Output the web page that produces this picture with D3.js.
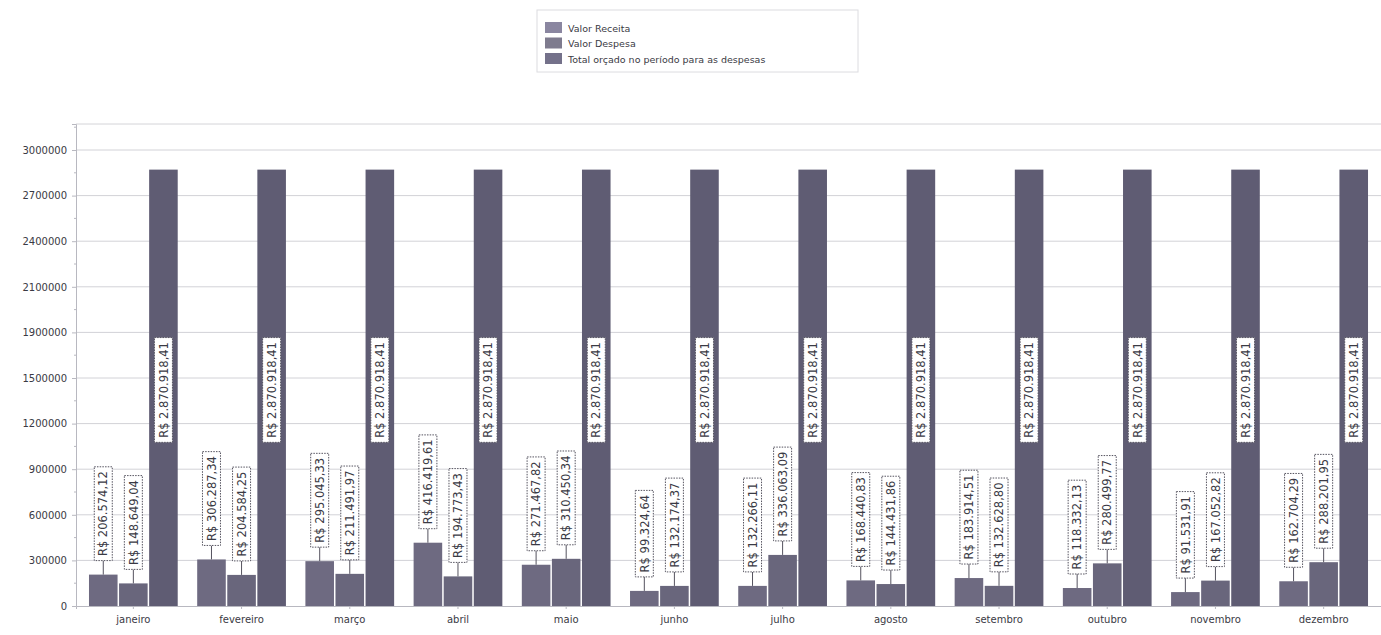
<!DOCTYPE html>
<html>
<head>
<meta charset="utf-8">
<script src="https://cdn.jsdelivr.net/npm/d3@7"></script>
<style>
  html, body { margin: 0; padding: 0; background: #ffffff; }
  svg { display: block; }
  text { font-family: "DejaVu Sans", Verdana, sans-serif; }
</style>
</head>
<body>
<svg id="chart" width="1381" height="635"></svg>
<script>
const months = ["janeiro","fevereiro","março","abril","maio","junho","julho","agosto","setembro","outubro","novembro","dezembro"];
const seriesNames = ["Valor Receita","Valor Despesa","Total orçado no período para as despesas"];
const receita = [206574.12, 306287.34, 295045.33, 416419.61, 271467.82, 99324.64, 132266.11, 168440.83, 183914.51, 118332.13, 91531.91, 162704.29];
const despesa = [148649.04, 204584.25, 211491.97, 194773.43, 310450.34, 132174.37, 336063.09, 144431.86, 132628.80, 280499.77, 167052.82, 288201.95];
const orcado  = [2870918.41, 2870918.41, 2870918.41, 2870918.41, 2870918.41, 2870918.41, 2870918.41, 2870918.41, 2870918.41, 2870918.41, 2870918.41, 2870918.41];
const tickValues = [0, 300000, 600000, 900000, 1200000, 1500000, 1800000, 2100000, 2400000, 2700000, 3000000];
const tickLabels = ["0","300000","600000","900000","1200000","1500000","1900000","2100000","2400000","2700000","3000000"];

(function () {
const series = [receita, despesa, orcado];
const colors = ["#6e6a81", "#69667c", "#5f5c73"];

const svg = d3.select("#chart");
const pLeft = 76, pRight = 1381, pTop = 124, pBottom = 606;

const y0 = d3.scaleLinear().domain([0, 3000000]).range([pBottom, 150]);
const yMax = y0.invert(pTop);
const y = d3.scaleLinear().domain([0, yMax]).range([pBottom, pTop]);

const x0 = d3.scaleBand().domain(months).range([pLeft, pRight]).paddingInner(0.18).paddingOuter(0.12);
const x1 = d3.scaleBand().domain([0,1,2]).range([0, x0.bandwidth()]).paddingInner(0.05);

// gridlines
const g = svg.append("g");
g.append("line").attr("x1", pLeft).attr("x2", pRight).attr("y1", pTop).attr("y2", pTop)
  .attr("stroke", "#d4d4d8").attr("stroke-width", 1);
g.selectAll("line.grid").data(tickValues.slice(1)).join("line")
  .attr("class","grid")
  .attr("x1", pLeft).attr("x2", pRight)
  .attr("y1", d => y(d)).attr("y2", d => y(d))
  .attr("stroke", "#d2d2d7").attr("stroke-width", 1);

// y axis
const yAxis = d3.axisLeft(y).tickValues(tickValues).tickSize(4).tickPadding(5)
  .tickFormat((d,i) => tickLabels[i]);
const ya = svg.append("g").attr("transform", `translate(${pLeft},0)`).call(yAxis);
ya.select(".domain").attr("stroke", "#b8b8c0");
ya.selectAll(".tick line").attr("stroke", "#b8b8c0");
ya.selectAll("text").attr("fill", "#3a3a44").style("font-size", "10px");
// minor ticks
const minor = d3.range(150000, yMax, 300000);
svg.append("g").selectAll("line").data(minor).join("line")
  .attr("x1", pLeft - 2).attr("x2", pLeft)
  .attr("y1", d => y(d)).attr("y2", d => y(d))
  .attr("stroke", "#b8b8c0");

// x axis
const xAxis = d3.axisBottom(x0).tickSize(3).tickPadding(7);
const xa = svg.append("g").attr("transform", `translate(0,${pBottom})`).call(xAxis);
xa.select(".domain").attr("stroke", "#b8b8c0");
xa.selectAll(".tick line").attr("stroke", "#b8b8c0");
xa.selectAll("text").attr("fill", "#3a3a44").style("font-size", "10px");

// bars
const data = [];
months.forEach((m, i) => series.forEach((s, k) => data.push({m, k, v: s[i]})));

svg.append("g").selectAll("rect").data(data).join("rect")
  .attr("x", d => x0(d.m) + x1(d.k))
  .attr("y", d => y(d.v))
  .attr("width", x1.bandwidth())
  .attr("height", d => pBottom - y(d.v))
  .attr("fill", d => colors[d.k]);

// labels
const fmt = v => "R$ " + v.toLocaleString("pt-BR", {minimumFractionDigits: 2, maximumFractionDigits: 2});
const lg = svg.append("g");
const fs = "11.5px";
data.forEach(d => {
  const cx = x0(d.m) + x1(d.k) + x1.bandwidth() / 2;
  const txt = fmt(d.v);
  const tmp = lg.append("text").style("font-size", fs).text(txt);
  const w = tmp.node().getComputedTextLength();
  tmp.remove();
  const boxH = w + 9, boxW = 18;
  let boxBottom;
  if (d.k === 2) {
    boxBottom = y(d.v * 0.375);
  } else {
    boxBottom = y(d.v) - 14;
    lg.append("line").attr("x1", cx).attr("x2", cx)
      .attr("y1", y(d.v)).attr("y2", boxBottom)
      .attr("stroke", "#55535f").attr("stroke-width", 1);
  }
  lg.append("rect")
    .attr("x", cx - boxW / 2).attr("y", boxBottom - boxH)
    .attr("width", boxW).attr("height", boxH)
    .attr("fill", "#ffffff").attr("stroke", "#55535f")
    .attr("stroke-dasharray", "1.5,1.2").attr("stroke-width", 1);
  lg.append("text")
    .attr("transform", `translate(${cx + 4.2},${boxBottom - 4.5}) rotate(-90)`)
    .style("font-size", fs).attr("fill", "#3a3a44")
    .text(txt);
});

// legend
const leg = svg.append("g");
leg.append("rect").attr("x", 537).attr("y", 10).attr("width", 321).attr("height", 62)
  .attr("fill", "#ffffff").attr("stroke", "#dcdce0");
const legColors = ["#8a86a0", "#7e7b8e", "#74718a"];
seriesNames.forEach((n, i) => {
  const yy = 28 + i * 15.5;
  leg.append("rect").attr("x", 545).attr("y", yy - 6).attr("width", 17).attr("height", 11)
    .attr("fill", legColors[i]);
  leg.append("text").attr("x", 568).attr("y", yy + 3.5)
    .style("font-size", "9.5px").attr("fill", "#3a3a44").text(n);
});
})();
</script>
</body>
</html>
